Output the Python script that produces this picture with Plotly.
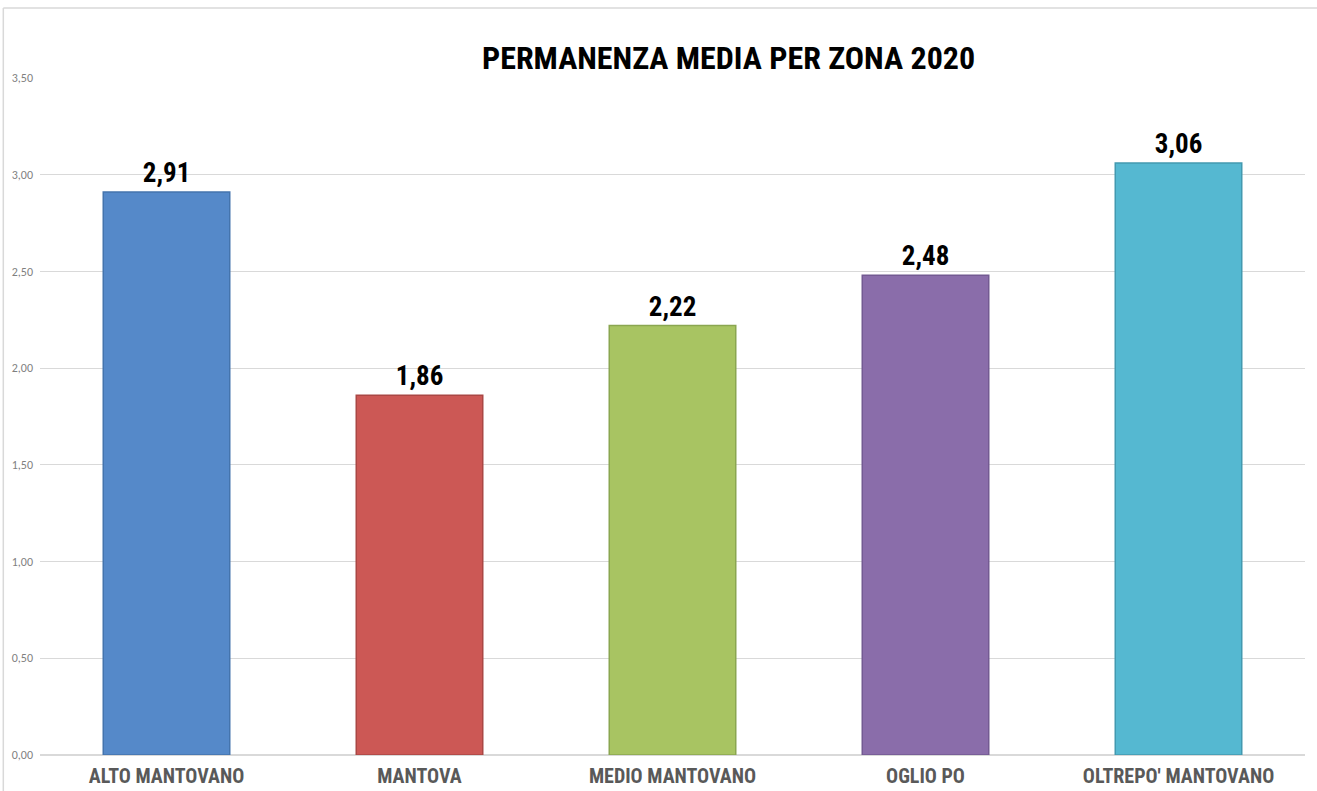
import plotly.graph_objects as go

# --- Data ---
zone = ["ALTO MANTOVANO", "MANTOVA", "MEDIO MANTOVANO", "OGLIO PO", "OLTREPO' MANTOVANO"]
permanenza = [2.91, 1.86, 2.22, 2.48, 3.06]
tick_vals = [0, 0.5, 1.0, 1.5, 2.0, 2.5, 3.0, 3.5]
tick_text = ["0,00", "0,50", "1,00", "1,50", "2,00", "2,50", "3,00", "3,50"]

FILL = ["#5589c9", "#cc5855", "#a8c462", "#8a6daa", "#55b8d1"]
EDGE = ["#4474ad", "#aa4744", "#8aa650", "#735a92", "#4399b0"]

NARROW = "Liberation Sans Narrow, Arial Narrow, Roboto Condensed, Arial, sans-serif"

fig = go.Figure()
fig.add_trace(go.Bar(
    x=zone, y=permanenza, width=0.5,
    marker=dict(color=FILL, line=dict(color=EDGE, width=1.5)),
    text=["<b>" + f"{v:.2f}".replace(".", ",") + "</b>" for v in permanenza],
    textposition="outside", cliponaxis=False,
    textfont=dict(family=NARROW, size=27, color="#000000"),
    hoverinfo="x+y",
))

# chart frame (top and left edges visible)
fig.add_shape(type="line", xref="paper", yref="paper",
              x0=-0.029, x1=1.0095, y0=1.1034, y1=1.1034,
              line=dict(color="#d9d9d9", width=1.5))
fig.add_shape(type="line", xref="paper", yref="paper",
              x0=-0.029, x1=-0.029, y0=-0.053, y1=1.1034,
              line=dict(color="#d9d9d9", width=1.5))

fig.add_annotation(text="<b>PERMANENZA MEDIA PER ZONA 2020</b>",
                   xref="paper", yref="paper", x=0.544, y=1.03,
                   xanchor="center", yanchor="middle", showarrow=False,
                   font=dict(family=NARROW, size=32, color="#000000"))

fig.update_layout(
    width=1317, height=791,
    paper_bgcolor="#ffffff", plot_bgcolor="#ffffff",
    margin=dict(l=40, r=12, t=78, b=36),
    showlegend=False,
    bargap=0.5,
    xaxis=dict(showgrid=False, showline=False, ticks="",
               tickfont=dict(family=NARROW, size=20, color="#595959"),
               tickprefix="<b>", ticksuffix="</b>", automargin=False,
               ticklabelstandoff=7),
    yaxis=dict(range=[0, 3.5], tickvals=tick_vals, ticktext=tick_text,
               showgrid=True, gridcolor="#d9d9d9", gridwidth=1,
               zeroline=True, zerolinecolor="#d9d9d9", showline=False,
               tickfont=dict(family="Carlito, Calibri, Liberation Sans, sans-serif",
                             size=12, color="#7f7f7f"),
               ticklabelstandoff=6, automargin=False),
)

# drop the default page margin so the figure sits flush in the window
fig.write_html("out.html", config={"displayModeBar": False},
               post_script="document.body.style.margin='0';document.body.style.overflow='hidden';")
